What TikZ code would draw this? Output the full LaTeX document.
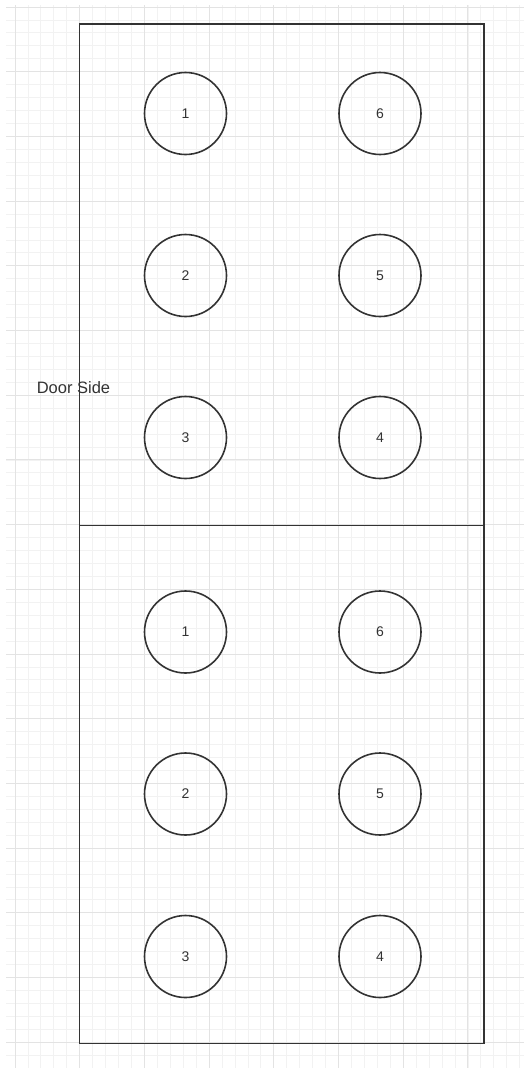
\documentclass[tikz,border=0pt]{standalone}
\usepackage{fontspec}
\setmainfont{Liberation Sans}
\definecolor{ink}{HTML}{333333}
\definecolor{gridminor}{HTML}{F2F2F2}
\definecolor{gridmajor}{HTML}{E3E3E3}
\tikzset{
  seat/.style={circle,draw=ink,line width=1.6pt,minimum size=82pt,inner sep=0pt,text=ink,font=\fontsize{14}{16}\selectfont},
  room/.style={draw=ink,line width=1.8pt},
  lbl/.style={text=ink,font=\fontsize{16.5}{18}\selectfont,inner sep=0pt}
}
\begin{document}
\begin{tikzpicture}[x=1pt,y=-1pt]
\useasboundingbox[fill=white] (0,0) rectangle (524,1068);
% grid
\foreach \i in {0,...,39}{
  \pgfmathsetmacro\gx{15+\i*12.94}
  \ifdim\gx pt<524pt
    \draw[gridminor,line width=0.8pt] (\gx,5) -- (\gx,1068);
  \fi
}
\foreach \i in {0,...,81}{
  \pgfmathsetmacro\gy{7+\i*12.94}
  \ifdim\gy pt<1068pt
    \draw[gridminor,line width=0.8pt] (6,\gy) -- (524,\gy);
  \fi
}
\foreach \i in {0,...,7}{
  \pgfmathsetmacro\gx{15+\i*64.7}
  \draw[gridmajor,line width=1pt] (\gx,5) -- (\gx,1068);
}
\foreach \i in {0,...,16}{
  \pgfmathsetmacro\gy{7+\i*64.7}
  \draw[gridmajor,line width=1pt] (6,\gy) -- (524,\gy);
}
% rooms
\coordinate (tl) at (79.5,24);
\coordinate (mr) at (484,525.5);
\coordinate (ml) at (79.5,525.5);
\coordinate (br) at (484,1043.5);
\draw[room] (tl) rectangle (mr);
\draw[room] (ml) rectangle (br);
% seats top
\node[seat] (a1) at (185.5,113.5) {1};
\node[seat] (a2) at (185.5,275.5) {2};
\node[seat] (a3) at (185.5,437.5) {3};
\node[seat] (a6) at (380,113.5) {6};
\node[seat] (a5) at (380,275.5) {5};
\node[seat] (a4) at (380,437.5) {4};
% seats bottom
\node[seat] (b1) at (185.5,632) {1};
\node[seat] (b2) at (185.5,794) {2};
\node[seat] (b3) at (185.5,956.5) {3};
\node[seat] (b6) at (380,632) {6};
\node[seat] (b5) at (380,794) {5};
\node[seat] (b4) at (380,956.5) {4};
\node[lbl] (door) at (73.5,387.5) {Door Side};
\end{tikzpicture}
\end{document}
